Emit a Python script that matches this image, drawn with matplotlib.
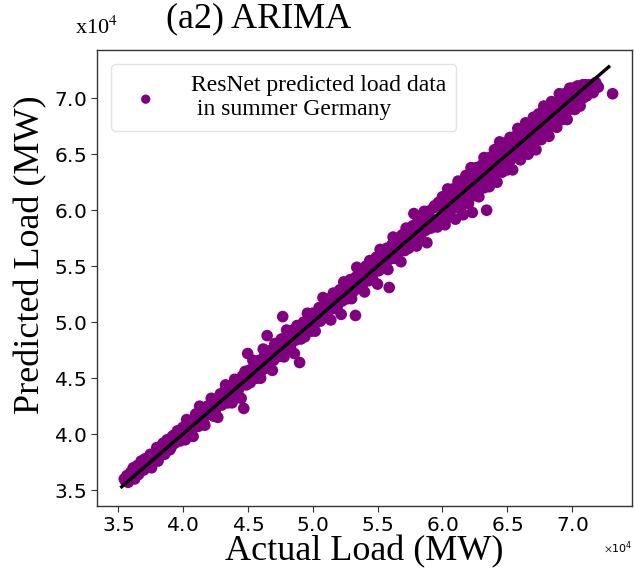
import matplotlib
matplotlib.use("Agg")
import matplotlib.pyplot as plt
import numpy as np

plt.rcParams['mathtext.fontset'] = 'stix'

# values in units of 10^4 MW
actual = [
    3.55, 3.57, 3.58, 3.60, 3.62, 3.63, 3.65, 3.66, 3.68, 3.70, 3.71, 3.73, 3.75,
    3.76, 3.78, 3.80, 3.81, 3.83, 3.85, 3.86, 3.88, 3.90, 3.92, 3.94, 3.96, 3.98,
    4.00, 4.02, 4.03, 4.05, 4.07, 4.08, 4.10, 4.12, 4.13, 4.15, 4.17, 4.19, 4.20,
    4.22, 4.24, 4.26, 4.27, 4.29, 4.31, 4.33, 4.35, 4.36, 4.38, 4.40, 4.42, 4.44,
    4.45, 4.47, 4.48, 4.50, 4.52, 4.54, 4.56, 4.58, 4.60, 4.62, 4.64, 4.65, 4.67,
    4.69, 4.71, 4.73, 4.75, 4.77, 4.78, 4.80, 4.82, 4.84, 4.86, 4.88, 4.90, 4.92,
    4.94, 4.96, 4.98,
    5.00, 5.02, 5.04, 5.06, 5.08, 5.10, 5.12, 5.14, 5.16, 5.18, 5.20, 5.22, 5.24,
    5.26, 5.28, 5.30, 5.33, 5.34, 5.36, 5.38, 5.40, 5.42, 5.44, 5.46, 5.48, 5.50,
    5.52, 5.54, 5.56, 5.58, 5.59, 5.60, 5.62, 5.64, 5.66, 5.68, 5.70, 5.72, 5.74,
    5.76, 5.78, 5.80, 5.82, 5.84, 5.86, 5.88, 5.90, 5.92, 5.94, 5.96, 5.98,
    6.00, 6.00, 6.02, 6.02, 6.04, 6.04, 6.06, 6.06, 6.08, 6.08, 6.10, 6.10, 6.12,
    6.12, 6.14, 6.14, 6.16, 6.16, 6.18, 6.18, 6.20, 6.20, 6.23, 6.22, 6.22, 6.24,
    6.24, 6.26, 6.26, 6.28, 6.28, 6.30, 6.30, 6.32, 6.32, 6.34, 6.34, 6.34, 6.36,
    6.36, 6.38, 6.38, 6.40, 6.40, 6.42, 6.42, 6.44, 6.44, 6.46, 6.46, 6.48, 6.48,
    6.50, 6.50, 6.52, 6.52, 6.54, 6.54, 6.56, 6.56, 6.58, 6.58, 6.60, 6.60, 6.62,
    6.62, 6.64, 6.64, 6.66, 6.66, 6.68, 6.68, 6.70, 6.70, 6.72, 6.72, 6.74, 6.74,
    6.76, 6.76, 6.78, 6.78, 6.80, 6.80, 6.82, 6.82, 6.84, 6.84, 6.86, 6.86, 6.88,
    6.88, 6.90, 6.90, 6.92, 6.92, 6.94, 6.94, 6.96, 6.96, 6.98, 6.98, 7.00, 7.00,
    7.02, 7.02, 7.04, 7.04, 7.06, 7.06, 7.08, 7.08, 7.10, 7.10, 7.13, 7.15, 7.18,
    7.20, 7.31,
    3.56, 3.59, 3.61, 3.64, 3.67, 3.69, 3.72, 3.74, 3.77, 3.79, 3.82, 3.84, 3.87,
    3.89, 3.91, 3.93, 3.95, 3.97, 3.99, 4.01, 4.04, 4.06, 4.09, 4.11, 4.14, 4.16,
    4.18, 4.21, 4.23, 4.25, 4.28, 4.30, 4.32, 4.34, 4.37, 4.39, 4.41, 4.43, 4.46,
    4.49, 4.51, 4.53, 4.55, 4.57, 4.59, 4.61, 4.63, 4.66, 4.68, 4.70, 4.72, 4.74,
    4.76, 4.79, 4.81, 4.83, 4.85, 4.87, 4.89, 4.91, 4.93, 4.95, 4.97, 4.99,
    5.01, 5.03, 5.05, 5.07, 5.09, 5.11, 5.13, 5.15, 5.17, 5.19, 5.21, 5.23, 5.25,
    5.27, 5.29, 5.31, 5.33, 5.35, 5.37, 5.39, 5.41, 5.43, 5.45, 5.47, 5.49, 5.51,
    5.53, 5.55, 5.57, 5.59, 5.61, 5.63, 5.65, 5.67, 5.69, 5.71, 5.73, 5.75, 5.77,
    5.79, 5.81, 5.83, 5.85, 5.87, 5.89, 5.91, 5.93, 5.95, 5.97, 5.99,
    6.01, 6.03, 6.05, 6.07, 6.09, 6.11, 6.13, 6.15, 6.17, 6.19, 6.21, 6.23, 6.25,
    6.27, 6.29, 6.31, 6.33, 6.35, 6.37, 6.39, 6.41, 6.43, 6.45, 6.47, 6.49, 6.51,
    6.53, 6.55, 6.57, 6.59, 6.61, 6.63, 6.65, 6.67, 6.69, 6.71, 6.73, 6.75, 6.77,
    6.79, 6.81, 6.83, 6.85, 6.87, 6.89, 6.91, 6.93, 6.95, 6.97, 6.99, 7.01, 7.03,
    7.05, 7.07, 7.09, 7.11, 7.14, 7.16, 7.19,
]
predicted = [
    3.60, 3.63, 3.57, 3.66, 3.70, 3.60, 3.72, 3.64, 3.76, 3.68, 3.78, 3.74, 3.82,
    3.70, 3.80, 3.88, 3.76, 3.86, 3.92, 3.82, 3.95, 3.86, 3.98, 3.92, 4.03, 3.94,
    4.06, 3.95, 4.13, 4.02, 4.11, 3.98, 4.18, 4.07, 4.25, 4.15, 4.08, 4.25, 4.18,
    4.32, 4.16, 4.29, 4.15, 4.36, 4.27, 4.44, 4.28, 4.38, 4.28, 4.49, 4.39, 4.49,
    4.32, 4.23, 4.56, 4.72, 4.46, 4.66, 4.54, 4.64, 4.50, 4.76, 4.59, 4.88, 4.70,
    4.57, 4.81, 4.69, 4.82, 5.05, 4.69, 4.93, 4.80, 4.89, 4.72, 4.97, 4.64, 4.94,
    4.87, 5.08, 4.95,
    5.08, 4.92, 5.08, 5.01, 5.22, 5.09, 5.19, 5.02, 5.26, 5.12, 5.23, 5.07, 5.36,
    5.23, 5.34, 5.21, 5.06, 5.49, 5.32, 5.46, 5.27, 5.44, 5.55, 5.39, 5.53, 5.34,
    5.65, 5.52, 5.63, 5.47, 5.31, 5.64, 5.76, 5.58, 5.75, 5.54, 5.71, 5.84, 5.66,
    5.81, 5.97, 5.68, 5.89, 5.81, 5.99, 5.71, 5.94, 5.85, 6.04, 5.85, 6.04,
    5.95, 6.12, 6.05, 5.87, 6.19, 5.96, 6.12, 5.94, 6.06, 6.19, 5.92, 6.15, 6.26,
    6.06, 6.01, 6.22, 6.18, 5.96, 6.31, 6.09, 6.24, 6.06, 5.98, 6.38, 6.19, 6.13,
    6.31, 6.38, 6.19, 6.12, 6.31, 6.40, 6.25, 6.20, 6.47, 6.00, 6.39, 6.26, 6.47,
    6.21, 6.36, 6.46, 6.30, 6.54, 6.45, 6.25, 6.61, 6.38, 6.53, 6.34, 6.45, 6.60,
    6.36, 6.55, 6.65, 6.44, 6.36, 6.56, 6.66, 6.51, 6.47, 6.73, 6.66, 6.45, 6.59,
    6.73, 6.78, 6.55, 6.50, 6.70, 6.77, 6.62, 6.58, 6.83, 6.74, 6.54, 6.86, 6.67,
    6.63, 6.82, 6.93, 6.75, 6.70, 6.88, 6.85, 6.66, 6.97, 6.76, 6.82, 6.96, 6.74,
    6.93, 7.04, 6.83, 6.81, 6.99, 7.04, 6.91, 6.81, 7.00, 7.09, 6.90, 6.96, 7.09,
    6.90, 7.08, 7.11, 6.98, 7.05, 6.93, 7.12, 7.00, 7.12, 7.05, 7.12, 7.09, 7.14,
    7.10, 7.04,
    3.58, 3.64, 3.62, 3.68, 3.70, 3.74, 3.72, 3.79, 3.76, 3.83, 3.80, 3.90, 3.86,
    3.93, 3.88, 3.99, 3.94, 4.02, 3.98, 4.04, 4.08, 4.02, 4.12, 4.10, 4.19, 4.11,
    4.22, 4.21, 4.27, 4.20, 4.33, 4.26, 4.38, 4.33, 4.43, 4.36, 4.46, 4.40, 4.52,
    4.44, 4.57, 4.52, 4.61, 4.50, 4.66, 4.57, 4.70, 4.62, 4.75, 4.66, 4.78, 4.74,
    4.85, 4.74, 4.87, 4.78, 4.93, 4.84, 4.96, 4.85, 5.00, 4.93, 5.04, 4.92,
    5.07, 5.00, 5.13, 5.03, 5.15, 5.05, 5.21, 5.12, 5.24, 5.14, 5.29, 5.19, 5.32,
    5.21, 5.38, 5.27, 5.40, 5.30, 5.45, 5.35, 5.50, 5.37, 5.52, 5.44, 5.58, 5.46,
    5.60, 5.50, 5.66, 5.56, 5.69, 5.57, 5.72, 5.63, 5.78, 5.64, 5.80, 5.70, 5.86,
    5.73, 5.90, 5.77, 5.93, 5.82, 5.99, 5.84, 6.02, 5.90, 6.07, 5.92,
    6.08, 5.97, 6.10, 6.01, 6.16, 6.03, 6.20, 6.08, 6.24, 6.14, 6.29, 6.13, 6.33,
    6.22, 6.38, 6.24, 6.41, 6.30, 6.43, 6.31, 6.50, 6.36, 6.50, 6.41, 6.57, 6.45,
    6.60, 6.48, 6.64, 6.53, 6.69, 6.55, 6.74, 6.60, 6.75, 6.64, 6.81, 6.70, 6.86,
    6.71, 6.90, 6.74, 6.91, 6.80, 6.97, 6.86, 7.01, 6.88, 7.05, 6.93, 7.03, 6.96,
    7.08, 7.02, 7.08, 7.02, 7.11, 7.05, 7.10,
]
fit_line = [3.53, 7.28]
scale = 1e4

x_ticks = [3.5, 4.0, 4.5, 5.0, 5.5, 6.0, 6.5, 7.0]
y_ticks = [3.5, 4.0, 4.5, 5.0, 5.5, 6.0, 6.5, 7.0]

fig = plt.figure(figsize=(6.34, 5.69), dpi=100)
ax = fig.add_axes([0.153, 0.111, 0.844, 0.801])

ax.scatter(np.array(actual) * scale, np.array(predicted) * scale, s=70,
           color='#800080', edgecolors='none',
           label='ResNet predicted load data\n in summer Germany', zorder=2)
ax.plot(np.array(fit_line) * scale, np.array(fit_line) * scale, color='black',
        lw=2.4, zorder=3)

ax.set_xlim(3.34 * scale, 7.46 * scale)
ax.set_ylim(3.36 * scale, 7.43 * scale)
ax.set_xticks(np.array(x_ticks) * scale)
ax.set_yticks(np.array(y_ticks) * scale)
ax.ticklabel_format(style='sci', axis='both', scilimits=(0, 0), useMathText=True)
ax.yaxis.get_offset_text().set_visible(False)
ax.xaxis.get_offset_text().set_fontsize(8)
ax.tick_params(labelsize=14.5, length=4, width=0.8, colors='#333333', labelcolor='black')
for sp in ax.spines.values():
    sp.set_color('#333333')
    sp.set_linewidth(1.0)

ax.set_xlabel('Actual Load (MW)', family='Liberation Serif', fontsize=26, labelpad=0)
ax.set_ylabel('Predicted Load (MW)', family='Liberation Serif', fontsize=26)
ax.yaxis.set_label_coords(-0.092, 0.55)

leg = ax.legend(loc='upper left', prop={'family': 'Liberation Serif', 'size': 17},
                markerscale=0.8, handletextpad=0.9, borderpad=0.45,
                bbox_to_anchor=(0.005, 0.995), frameon=True)
leg.get_frame().set_edgecolor('#dddddd')

fig.text(0.408, 0.952, '(a2) ARIMA', family='Liberation Serif', fontsize=26,
         ha='center', va='baseline')
fig.text(0.118, 0.940, 'x10$^4$', family='Liberation Serif', fontsize=16,
         ha='left', va='baseline')

fig.savefig('out.png', dpi=100)
